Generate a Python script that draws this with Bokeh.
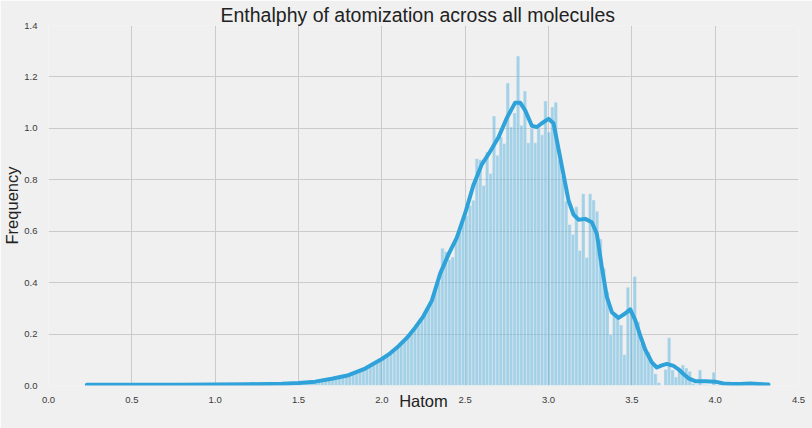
from bokeh.plotting import figure
from bokeh.models import FixedTicker, PrintfTickFormatter
from bokeh.embed import file_html
from bokeh.resources import INLINE

title_text = "Enthalphy of atomization across all molecules"
x_label = "Hatom"
y_label = "Frequency"
x_ticks = [0.0, 0.5, 1.0, 1.5, 2.0, 2.5, 3.0, 3.5, 4.0, 4.5]
y_ticks = [0.0, 0.2, 0.4, 0.6, 0.8, 1.0, 1.2, 1.4]
x_grid = [0.5, 1.0, 1.5, 2.0, 2.5, 3.0, 3.5, 4.0]
y_grid = [0.2, 0.4, 0.6, 0.8, 1.0, 1.2]

# histogram (density) bins
bin_start = 1.4062
bin_width = 0.0206
bin_heights = [
    0.006, 0.007, 0.008, 0.009, 0.008, 0.010, 0.011, 0.013, 0.012, 0.015,
    0.016, 0.018, 0.020, 0.022, 0.026, 0.028, 0.031, 0.035, 0.037, 0.041,
    0.044, 0.049, 0.055, 0.061, 0.068, 0.076, 0.083, 0.090, 0.097, 0.107,
    0.116, 0.126, 0.133, 0.148, 0.160, 0.176, 0.190, 0.205, 0.222, 0.240,
    0.262, 0.282, 0.305, 0.333, 0.368, 0.400, 0.534, 0.520, 0.490, 0.500,
    0.570, 0.600, 0.640, 0.660, 0.700, 0.720, 0.882, 0.878, 0.778, 0.908,
    0.824, 1.048, 0.895, 0.966, 0.940, 1.176, 1.005, 1.060, 1.281, 1.012,
    1.145, 0.944, 0.999, 0.944, 0.999, 0.975, 1.106, 0.986, 1.083, 1.102,
    0.880, 0.815, 0.717, 0.626, 0.587, 0.695, 0.525, 0.746, 0.498, 0.746,
    0.721, 0.678, 0.570, 0.456, 0.365, 0.198, 0.274, 0.260, 0.235, 0.120,
    0.382, 0.300, 0.424, 0.248, 0.163, 0.150, 0.130, 0.085, 0.046, 0.012,
    0.000, 0.062, 0.186, 0.060, 0.033, 0.055, 0.080, 0.068, 0.055, 0.008,
    0.004, 0.060, 0.004, 0.003, 0.002, 0.052, 0.002, 0.003,
]

# kernel density estimate
kde_x = [0.23, 0.5, 0.8, 1.0, 1.2, 1.4, 1.5, 1.6, 1.7, 1.8, 1.9, 2.0, 2.05, 2.1,
         2.15, 2.2, 2.25, 2.3, 2.35, 2.4, 2.45, 2.5, 2.55, 2.6, 2.65, 2.7, 2.75,
         2.8, 2.83, 2.86, 2.9, 2.93, 2.96, 3.0, 3.03, 3.06, 3.09, 3.12, 3.15,
         3.18, 3.22, 3.26, 3.29, 3.32, 3.35, 3.38, 3.42, 3.46, 3.49, 3.52, 3.55,
         3.58, 3.62, 3.65, 3.68, 3.71, 3.75, 3.78, 3.81, 3.84, 3.88, 3.94, 4.0,
         4.05, 4.1, 4.15, 4.21, 4.26, 4.32]
kde_y = [0.003, 0.003, 0.003, 0.004, 0.005, 0.007, 0.010, 0.015, 0.026, 0.040,
         0.066, 0.103, 0.125, 0.153, 0.185, 0.225, 0.270, 0.330, 0.435, 0.510,
         0.575, 0.670, 0.780, 0.860, 0.910, 0.965, 1.040, 1.100, 1.100, 1.070,
         1.010, 1.005, 1.020, 1.037, 1.020, 0.920, 0.820, 0.720, 0.665, 0.645,
         0.648, 0.635, 0.590, 0.460, 0.345, 0.285, 0.263, 0.280, 0.296, 0.255,
         0.195, 0.140, 0.090, 0.070, 0.078, 0.084, 0.076, 0.063, 0.045, 0.028,
         0.017, 0.017, 0.015, 0.008, 0.006, 0.006, 0.008, 0.006, 0.004]

BG = "#f0f0f0"
BLUE = "#30a2da"
FONT = "Liberation Sans"

p = figure(width=812, height=428, x_range=(0, 4.5), y_range=(0, 1.4),
           output_backend="svg", toolbar_location=None, title=title_text,
           min_border_left=48, min_border_right=14, min_border_top=25,
           min_border_bottom=43)
p.background_fill_color = BG
p.border_fill_color = BG
p.outline_line_color = None

p.title.align = "left"
p.title.offset = 172
p.title.text_font = FONT
p.title.text_font_size = "19.5px"
p.title.text_font_style = "normal"
p.title.text_color = "#222222"
p.title.standoff = 0

lefts = [bin_start + i * bin_width for i in range(len(bin_heights))]
rights = [l + bin_width for l in lefts]
p.quad(left=lefts, right=rights, bottom=0, top=bin_heights,
       fill_color=BLUE, fill_alpha=0.4, line_color=BG, line_alpha=0.7,
       line_width=0.6)
p.line(kde_x, kde_y, line_color=BLUE, line_width=4, line_join="round",
       line_cap="round")

p.xaxis.ticker = FixedTicker(ticks=x_ticks)
p.yaxis.ticker = FixedTicker(ticks=y_ticks)
p.xgrid.ticker = FixedTicker(ticks=x_grid)
p.ygrid.ticker = FixedTicker(ticks=y_grid)
for g in (p.xgrid, p.ygrid):
    g.grid_line_color = "#cbcbcb"
    g.grid_line_width = 1

for ax in (p.xaxis, p.yaxis):
    ax.formatter = PrintfTickFormatter(format="%.1f")
    ax.axis_line_color = None
    ax.major_tick_line_color = None
    ax.minor_tick_line_color = None
    ax.major_label_text_font = FONT
    ax.major_label_text_font_size = "9.5px"
    ax.major_label_text_color = "#3a3a3a"
    ax.axis_label_text_font = FONT
    ax.axis_label_text_font_size = "16.5px"
    ax.axis_label_text_font_style = "normal"
    ax.axis_label_text_color = "#222222"
    ax.axis_label_standoff = 0
p.xaxis.axis_label_standoff = -14
p.xaxis.major_label_standoff = 5
p.yaxis.major_label_standoff = 5
p.xaxis.axis_label = x_label
p.yaxis.axis_label = y_label

html = file_html(p, INLINE)
html = html.replace("<body>", '<body style="background-color:#f0f0f0;">', 1)
open("out.html", "w").write(html)
